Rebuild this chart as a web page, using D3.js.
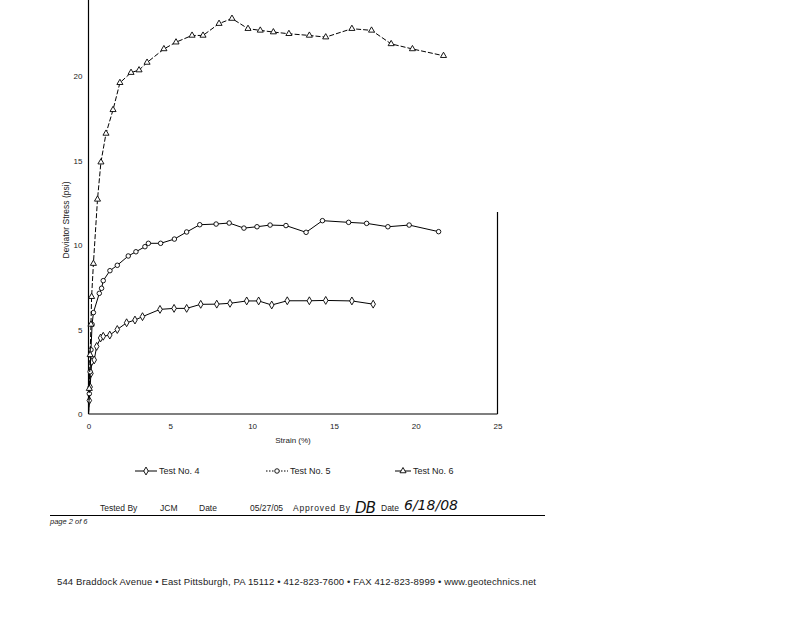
<!DOCTYPE html>
<html>
<head>
<meta charset="utf-8">
<script src="https://cdnjs.cloudflare.com/ajax/libs/d3/7.8.5/d3.min.js"></script>
<style>
  body { margin: 0; background: #fff; }
  svg { display: block; font-family: "Liberation Sans", Arial, sans-serif; }
</style>
</head>
<body>
<svg id="chart" width="800" height="618"></svg>
<script>
// strain (%) and deviator stress (psi)
const test4Strain = [0, 0.05, 0.1, 0.15, 0.2, 0.35, 0.5, 0.74, 0.9, 1.3, 1.76, 2.33, 2.84, 3.3, 4.37, 5.23, 6.0, 6.86, 7.84, 8.65, 9.67, 10.4, 11.2, 12.15, 13.5, 14.5, 16.1, 17.4];
const test4Stress = [0, 0.8, 1.6, 2.4, 3.1, 3.2, 4.0, 4.5, 4.6, 4.67, 5.0, 5.4, 5.56, 5.76, 6.19, 6.25, 6.25, 6.49, 6.5, 6.55, 6.69, 6.69, 6.45, 6.7, 6.7, 6.72, 6.69, 6.5];

const test5Strain = [0, 0.05, 0.1, 0.15, 0.22, 0.3, 0.66, 0.8, 0.9, 1.31, 1.76, 2.43, 2.9, 3.45, 3.66, 4.41, 5.25, 6.0, 6.8, 7.8, 8.6, 9.5, 10.3, 11.1, 12.07, 13.3, 14.3, 15.9, 17.0, 18.3, 19.6, 21.4];
const test5Stress = [0, 1.2, 2.5, 3.8, 5.3, 6.0, 7.14, 7.44, 7.89, 8.48, 8.8, 9.35, 9.6, 9.9, 10.1, 10.1, 10.35, 10.77, 11.2, 11.24, 11.3, 11.0, 11.08, 11.18, 11.15, 10.75, 11.44, 11.34, 11.28, 11.08, 11.18, 10.79];

const test6Strain = [0, 0.05, 0.1, 0.15, 0.19, 0.3, 0.55, 0.76, 1.07, 1.5, 1.92, 2.6, 3.09, 3.58, 4.61, 5.35, 6.33, 7.0, 7.98, 8.77, 9.75, 10.5, 11.3, 12.25, 13.5, 14.5, 16.1, 17.3, 18.5, 19.8, 21.7];
const test6Stress = [0, 1.5, 3.5, 5.3, 6.94, 8.9, 12.7, 14.9, 16.6, 18.0, 19.6, 20.2, 20.35, 20.8, 21.6, 22.0, 22.4, 22.4, 23.1, 23.4, 22.8, 22.7, 22.6, 22.5, 22.4, 22.3, 22.8, 22.7, 21.9, 21.6, 21.2];

const xTicks = [0, 5, 10, 15, 20, 25];
const yTicks = [0, 5, 10, 15, 20];
const seriesNames = ['Test No. 4', 'Test No. 5', 'Test No. 6'];

const svg = d3.select('#chart');

const x = d3.scaleLinear().domain([0, 25]).range([88.5, 497.5]);
const y = d3.scaleLinear().domain([0, 25]).range([414, -8.5]);

// axis frame (scan shows left + bottom + partial right border)
svg.append('line').attr('x1', x(0)).attr('x2', x(0)).attr('y1', 0).attr('y2', y(0))
  .attr('stroke', '#000').attr('stroke-width', 1.2);
svg.append('line').attr('x1', x(0)).attr('x2', x(25)).attr('y1', y(0)).attr('y2', y(0))
  .attr('stroke', '#000').attr('stroke-width', 1.2);
svg.append('line').attr('x1', x(25)).attr('x2', x(25)).attr('y1', 212).attr('y2', y(0))
  .attr('stroke', '#000').attr('stroke-width', 1.2);

const xAxis = svg.append('g')
  .attr('transform', `translate(0,${y(0)})`)
  .call(d3.axisBottom(x).tickValues(xTicks).tickSize(0).tickPadding(9));
const yAxis = svg.append('g')
  .attr('transform', `translate(${x(0)},0)`)
  .call(d3.axisLeft(y).tickValues(yTicks).tickSize(0).tickPadding(6));
[xAxis, yAxis].forEach(g => {
  g.select('.domain').remove();
  g.selectAll('text').attr('font-size', 8).attr('fill', '#222')
    .attr('font-family', '"Liberation Sans", Arial, sans-serif');
});

svg.append('text').attr('x', 293).attr('y', 443).attr('text-anchor', 'middle')
  .attr('font-size', 8).attr('fill', '#222').text('Strain (%)');
svg.append('text').attr('transform', 'translate(69,220) rotate(-90)')
  .attr('text-anchor', 'middle').attr('font-size', 8.5).attr('fill', '#222')
  .text('Deviator Stress (psi)');

// series
const sym = {
  diamond: d3.symbol().type(d3.symbolDiamond).size(18),
  circle: d3.symbol().type(d3.symbolCircle).size(16),
  triangle: d3.symbol().type(d3.symbolTriangle).size(16)
};
const series = [
  { name: seriesNames[0], xs: test4Strain, ys: test4Stress, shape: 'diamond', dash: null },
  { name: seriesNames[1], xs: test5Strain, ys: test5Stress, shape: 'circle', dash: null },
  { name: seriesNames[2], xs: test6Strain, ys: test6Stress, shape: 'triangle', dash: '5,2' }
];

const line = d3.line().x(d => x(d[0])).y(d => y(d[1]));

series.forEach(s => {
  const pts = s.xs.map((v, i) => [v, s.ys[i]]);
  svg.append('path').datum(pts).attr('d', line)
    .attr('fill', 'none').attr('stroke', '#000').attr('stroke-width', 1)
    .attr('stroke-dasharray', s.dash);
  svg.selectAll(null).data(pts.slice(1)).enter().append('path')
    .attr('d', sym[s.shape])
    .attr('transform', d => `translate(${x(d[0])},${y(d[1])})`)
    .attr('fill', '#fff').attr('stroke', '#000').attr('stroke-width', 0.9);
});

// legend
const legendPos = [
  { x1: 135, x2: 157, tx: 159, dash: null },
  { x1: 266, x2: 288, tx: 290, dash: '1.5,1.5' },
  { x1: 395, x2: 411, tx: 413, dash: null }
];
series.forEach((s, i) => {
  const p = legendPos[i];
  const g = svg.append('g');
  g.append('line').attr('x1', p.x1).attr('x2', p.x2).attr('y1', 471).attr('y2', 471)
    .attr('stroke', '#000').attr('stroke-width', 1).attr('stroke-dasharray', p.dash);
  g.append('path').attr('d', sym[s.shape])
    .attr('transform', `translate(${(p.x1 + p.x2) / 2},471)`)
    .attr('fill', '#fff').attr('stroke', '#000').attr('stroke-width', 0.9);
  g.append('text').attr('x', p.tx).attr('y', 474).attr('font-size', 9).attr('fill', '#222')
    .text(s.name);
});

// sign-off block
const foot = svg.append('g').attr('font-size', 8.5).attr('fill', '#222');
foot.append('text').attr('x', 100).attr('y', 511).text('Tested By');
foot.append('text').attr('x', 160).attr('y', 511).text('JCM');
foot.append('text').attr('x', 199).attr('y', 511).text('Date');
foot.append('text').attr('x', 250).attr('y', 511).text('05/27/05');
foot.append('text').attr('x', 293).attr('y', 511).attr('textLength', 57).text('Approved By');
svg.append('text').attr('x', 355).attr('y', 513).attr('font-size', 15)
  .attr('font-family', '"DejaVu Sans", sans-serif').attr('font-style', 'italic')
  .attr('fill', '#111').attr('textLength', 21).text('DB');
foot.append('text').attr('x', 381).attr('y', 511).text('Date');
svg.append('text').attr('x', 404).attr('y', 510).attr('font-size', 14)
  .attr('font-style', 'italic').attr('font-family', '"DejaVu Sans", sans-serif')
  .attr('fill', '#111').text('6/18/08');
svg.append('line').attr('x1', 50).attr('x2', 545).attr('y1', 515.5).attr('y2', 515.5)
  .attr('stroke', '#000').attr('stroke-width', 1);
svg.append('text').attr('x', 50).attr('y', 524).attr('font-size', 7.5)
  .attr('font-style', 'italic').attr('fill', '#222').text('page 2 of 6');

svg.append('text').attr('x', 57).attr('y', 585).attr('font-size', 9.5).attr('fill', '#222')
  .attr('textLength', 479)
  .text('544 Braddock Avenue  •  East Pittsburgh, PA 15112  •  412-823-7600  •  FAX 412-823-8999  •  www.geotechnics.net');
</script>
</body>
</html>
